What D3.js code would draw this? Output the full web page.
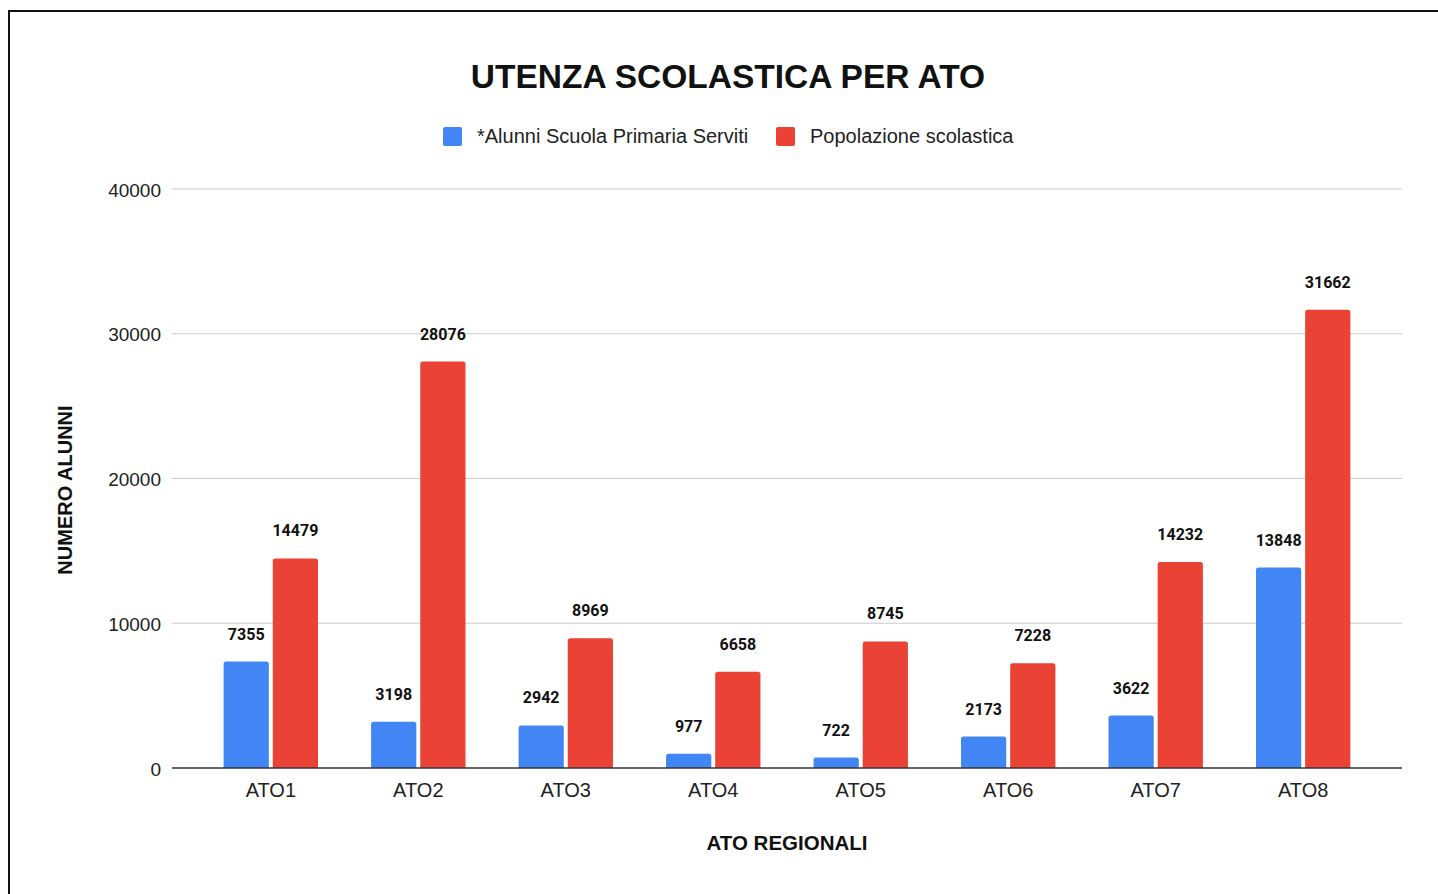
<!DOCTYPE html>
<html>
<head>
<meta charset="utf-8">
<script src="https://cdn.jsdelivr.net/npm/d3@7"></script>
<style>
  html, body { margin: 0; padding: 0; background: #fff; }
  svg { display: block; }
</style>
</head>
<body>
<script>
// Data
var categories = ["ATO1", "ATO2", "ATO3", "ATO4", "ATO5", "ATO6", "ATO7", "ATO8"];
var seriesNames = ["*Alunni Scuola Primaria Serviti", "Popolazione scolastica"];
var alunni = [7355, 3198, 2942, 977, 722, 2173, 3622, 13848];
var popolazione = [14479, 28076, 8969, 6658, 8745, 7228, 14232, 31662];
var yTicks = [0, 10000, 20000, 30000, 40000];

var width = 1438, height = 894;
var margin = {top: 189, right: 36, bottom: 126, left: 172};
var colors = ["#4285f4", "#ea4335"];
var font = "'Liberation Sans', Arial, sans-serif";

var rows = categories.map(function(c, i) {
  return {cat: c, values: [alunni[i], popolazione[i]]};
});

var svg = d3.select("body").append("svg")
  .attr("width", width)
  .attr("height", height);

// frame (only left and top edges visible)
svg.append("path")
  .attr("d", "M9,894V11H1438")
  .attr("fill", "none")
  .attr("stroke", "#111")
  .attr("stroke-width", 2);

// Scales
var xScale = d3.scaleBand()
  .domain(categories)
  .range([margin.left, width - margin.right])
  .paddingInner(0.36)
  .paddingOuter(0.35);

var subScale = d3.scaleBand()
  .domain([0, 1])
  .range([0, xScale.bandwidth()])
  .paddingInner(0.08);

var yScale = d3.scaleLinear()
  .domain([0, 40000])
  .range([height - margin.bottom, margin.top]);

// Gridlines
svg.append("g")
  .selectAll("line")
  .data(yTicks.filter(function(d) { return d > 0; }))
  .enter()
  .append("line")
    .attr("x1", margin.left)
    .attr("x2", width - margin.right)
    .attr("y1", function(d) { return yScale(d); })
    .attr("y2", function(d) { return yScale(d); })
    .attr("stroke", "#cccccc")
    .attr("stroke-width", 1);

// Y tick labels
var yAxis = d3.axisLeft(yScale).tickValues(yTicks).tickFormat(d3.format("d"))
  .tickSize(0).tickPadding(11);
svg.append("g")
  .attr("transform", "translate(" + margin.left + ",0)")
  .call(yAxis)
  .call(function(g) { g.select(".domain").remove(); })
  .selectAll("text")
    .attr("font-family", font)
    .attr("font-size", "19px")
    .attr("dy", "0.38em")
    .attr("fill", "#222");

// Bars
var groups = svg.append("g")
  .selectAll("g")
  .data(rows)
  .enter()
  .append("g")
    .attr("transform", function(d) { return "translate(" + xScale(d.cat) + ",0)"; });

function barPath(x, y, w, h, r) {
  return "M" + x + "," + (y + h) +
    "V" + (y + r) +
    "Q" + x + "," + y + " " + (x + r) + "," + y +
    "H" + (x + w - r) +
    "Q" + (x + w) + "," + y + " " + (x + w) + "," + (y + r) +
    "V" + (y + h) + "Z";
}

groups.selectAll("path")
  .data(function(d) { return d.values.map(function(v, i) { return {i: i, v: v}; }); })
  .enter()
  .append("path")
    .attr("d", function(d) {
      var y = yScale(d.v);
      return barPath(subScale(d.i), y, subScale.bandwidth(), yScale(0) - y, 2.5);
    })
    .attr("fill", function(d) { return colors[d.i]; });

// Value labels
groups.selectAll("text")
  .data(function(d) { return d.values.map(function(v, i) { return {i: i, v: v}; }); })
  .enter()
  .append("text")
    .text(function(d) { return d.v; })
    .attr("x", function(d) { return subScale(d.i) + subScale.bandwidth() / 2; })
    .attr("y", function(d) { return yScale(d.v) - 22; })
    .attr("text-anchor", "middle")
    .attr("font-family", "Roboto, sans-serif")
    .attr("font-weight", "bold")
    .attr("font-size", "16px")
    .attr("fill", "#111");

// X axis
var xAxis = d3.axisBottom(xScale).tickSize(0).tickPadding(15);
svg.append("g")
  .attr("transform", "translate(0," + yScale(0) + ")")
  .call(xAxis)
  .call(function(g) {
    g.select(".domain").attr("stroke", "#333").attr("stroke-width", 1.5)
      .attr("d", "M" + margin.left + ",0H" + (width - margin.right));
  })
  .selectAll("text")
    .attr("font-family", font)
    .attr("font-size", "20px")
    .attr("fill", "#222");

// Title
svg.append("text")
  .attr("x", 728)
  .attr("y", 88)
  .attr("text-anchor", "middle")
  .attr("font-family", font)
  .attr("font-weight", "bold")
  .attr("font-size", "33.5px")
  .attr("fill", "#111")
  .text("UTENZA SCOLASTICA PER ATO");

// Axis titles
svg.append("text")
  .attr("x", (margin.left + width - margin.right) / 2)
  .attr("y", 850)
  .attr("text-anchor", "middle")
  .attr("font-family", font)
  .attr("font-weight", "bold")
  .attr("font-size", "20.5px")
  .attr("fill", "#111")
  .text("ATO REGIONALI");

svg.append("text")
  .attr("transform", "translate(72,490) rotate(-90)")
  .attr("text-anchor", "middle")
  .attr("font-family", font)
  .attr("font-weight", "bold")
  .attr("font-size", "20px")
  .attr("fill", "#111")
  .text("NUMERO ALUNNI");

// Legend
var legendX = [443, 776];
var legend = svg.append("g")
  .selectAll("g")
  .data(seriesNames)
  .enter()
  .append("g")
    .attr("transform", function(d, i) { return "translate(" + legendX[i] + ",127)"; });

legend.append("rect")
  .attr("width", 19)
  .attr("height", 19)
  .attr("rx", 2)
  .attr("fill", function(d, i) { return colors[i]; });

legend.append("text")
  .attr("x", 34)
  .attr("y", 16)
  .attr("font-family", font)
  .attr("font-size", "20px")
  .attr("fill", "#222")
  .text(function(d) { return d; });
</script>
</body>
</html>
